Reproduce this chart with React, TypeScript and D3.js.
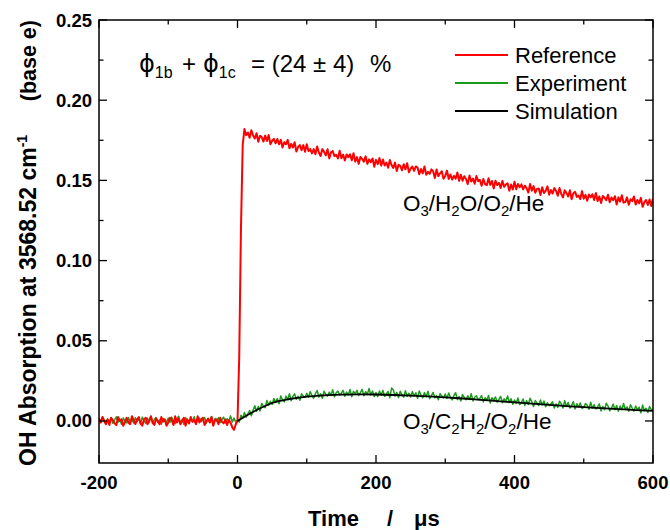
import * as d3 from "d3";

// sampled traces: one value every 2.5 µs starting at -200 µs
const T_START = -200;
const T_STEP = 2.5;

const REFERENCE = [
  0.0015, -0.001, 0.0025, 0.0, -0.002, 0.001, -0.0025, 0.002, 0.0005, -0.0015,
  -0.0025, 0.0025, 0.0, 0.001, -0.003, -0.0005, 0.002, -0.001, -0.002, 0.003,
  0.0005, -0.002, 0.001, 0.0025, -0.0015, -0.003, 0.001, 0.002, -0.002, 0.0,
  0.003, -0.001, -0.0025, 0.0015, 0.0, -0.002, 0.0025, -0.0005, 0.001, -0.003,
  -0.001, 0.002, 0.0005, -0.0025, 0.003, -0.001, 0.0015, -0.002, 0.0, 0.002,
  -0.003, 0.001, -0.0015, 0.0025, -0.0005, 0.0005, -0.002, 0.003, -0.001, 0.001,
  0.002, -0.0025, 0.0, 0.0015, -0.001, 0.0025, -0.003, 0.0005, 0.001, -0.002,
  0.002, -0.0005, -0.0015, 0.001, -0.0025, 0.0005, -0.001, -0.004, -0.0055, -0.002,
  0.0, 0.04, 0.12, 0.172,
  0.182, 0.1782, 0.1799, 0.1766, 0.1813, 0.178, 0.1762, 0.1794, 0.1741, 0.1778,
  0.177, 0.1742, 0.1779, 0.1746, 0.1783, 0.1725, 0.1747, 0.1759, 0.1731, 0.1758,
  0.1725, 0.1753, 0.1705, 0.1738, 0.1725, 0.1753, 0.17, 0.1728, 0.1705, 0.1738,
  0.168, 0.1708, 0.172, 0.1688, 0.172, 0.1678, 0.1725, 0.1683, 0.1695, 0.1668,
  0.1695, 0.1663, 0.1711, 0.1674, 0.1652, 0.1695, 0.1678, 0.1656, 0.1694, 0.1637,
  0.1675, 0.1683, 0.1651, 0.1659, 0.1637, 0.1685, 0.1638, 0.1661, 0.1624, 0.1662,
  0.1645, 0.1663, 0.1626, 0.1669, 0.1617, 0.1645, 0.1603, 0.1646, 0.1634, 0.1617,
  0.165, 0.1603, 0.1631, 0.1614, 0.1637, 0.1585, 0.1628, 0.1601, 0.1639, 0.1592,
  0.163, 0.1593, 0.1611, 0.1579, 0.1627, 0.1595, 0.1578, 0.1611, 0.1559, 0.1597,
  0.159, 0.1563, 0.1601, 0.1569, 0.1607, 0.155, 0.1573, 0.1586, 0.1559, 0.1587,
  0.158, 0.1538, 0.1571, 0.1544, 0.1587, 0.1535, 0.1553, 0.1541, 0.1569, 0.1557,
  0.1515, 0.1568, 0.1526, 0.1544, 0.1557, 0.151, 0.1528, 0.1561, 0.1509, 0.1537,
  0.1505, 0.1528, 0.1511, 0.1549, 0.1497, 0.1535, 0.1498, 0.1526, 0.1509, 0.1477,
  0.153, 0.1493, 0.1511, 0.1479, 0.1527, 0.1495, 0.1503, 0.1466, 0.1509, 0.1477,
  0.147, 0.1514, 0.1472, 0.1496, 0.1449, 0.1498, 0.1471, 0.1485, 0.1453, 0.1497,
  0.146, 0.1474, 0.1482, 0.1436, 0.1474, 0.1443, 0.1491, 0.1445, 0.1478, 0.1457,
  0.1475, 0.1444, 0.1467, 0.1451, 0.1424, 0.1478, 0.1436, 0.1465, 0.1423, 0.1447,
  0.145, 0.1409, 0.1457, 0.1421, 0.1434, 0.1463, 0.1411, 0.144, 0.1418, 0.1452,
  0.1435, 0.1404, 0.1452, 0.1416, 0.1394, 0.1438, 0.1421, 0.14, 0.1438, 0.1382,
  0.142, 0.1429, 0.1397, 0.1406, 0.1384, 0.1433, 0.1386, 0.141, 0.1373, 0.1412,
  0.1395, 0.1414, 0.1378, 0.1422, 0.1371, 0.14, 0.1359, 0.1403, 0.1392, 0.1376,
  0.141, 0.1364, 0.1393, 0.1377, 0.1401, 0.135, 0.1394, 0.1368, 0.1407, 0.1361,
  0.1365, 0.1394, 0.1348, 0.1382, 0.1371, 0.14, 0.1349, 0.1378, 0.1357, 0.1391,
  0.1335, 0.1364, 0.1378, 0.1347, 0.1381, 0.134, 0.1389,
];

const EXPERIMENT = [
  0.0016, -0.001, 0.0024, 0.0002, -0.0018, 0.0012, -0.0004, 0.002, -0.0014, 0.0006,
  0.0026, -0.0008, 0.0014, -0.002, 0.0018, 0.0, -0.0012, 0.0022, -0.0006, 0.001,
  -0.0012, 0.002, -0.0004, 0.0014, -0.0018, 0.0024, 0.0002, -0.0014, 0.0018, -0.0006,
  0.0028, -0.0016, 0.001, 0.0022, -0.001, 0.0006, -0.002, 0.0016, 0.0004, -0.0008,
  0.0018, -0.0008, 0.0024, 0.0, -0.0016, 0.0012, 0.003, -0.0012, 0.0008, -0.002,
  0.002, 0.0004, -0.001, 0.0016, -0.0006, 0.0026, -0.0014, 0.001, 0.0018, -0.0004,
  0.0006, 0.0022, -0.0014, 0.0012, -0.0004, 0.0028, -0.0018, 0.0016, 0.0, 0.002,
  -0.001, 0.0008, 0.0024, -0.0012, 0.0014, -0.0002, 0.0032, -0.0006, 0.0018, -0.0008,
  0.0005, -0.0006, 0.0036, 0.0016, 0.0053, 0.0023, 0.0045, 0.0065, 0.0033, 0.0067,
  0.0095, 0.006, 0.009, 0.0063, 0.0109, 0.0092, 0.0083, 0.0128, 0.0098, 0.0123,
  0.0103, 0.014, 0.0116, 0.0139, 0.0107, 0.0156, 0.0132, 0.0119, 0.0155, 0.0132,
  0.017, 0.0126, 0.0153, 0.0169, 0.0136, 0.0154, 0.0129, 0.0169, 0.0156, 0.0146,
  0.0173, 0.0148, 0.0183, 0.0157, 0.0142, 0.0171, 0.019, 0.0149, 0.0169, 0.0142,
  0.0185, 0.0167, 0.0154, 0.018, 0.0159, 0.0195, 0.0151, 0.0176, 0.0186, 0.0163,
  0.0173, 0.0191, 0.0154, 0.018, 0.0164, 0.0196, 0.0151, 0.0185, 0.0169, 0.0191,
  0.0159, 0.0177, 0.0197, 0.0157, 0.0183, 0.0167, 0.0202, 0.0162, 0.0186, 0.0152,
  0.0178, 0.0152, 0.0187, 0.0161, 0.0191, 0.0154, 0.017, 0.0184, 0.0145, 0.0205,
  0.0195, 0.0155, 0.0178, 0.0146, 0.0185, 0.0163, 0.0149, 0.0188, 0.0154, 0.0173,
  0.0149, 0.0183, 0.0156, 0.0176, 0.0141, 0.0187, 0.016, 0.0144, 0.0177, 0.0151,
  0.0186, 0.0139, 0.0158, 0.0178, 0.0144, 0.0159, 0.0132, 0.017, 0.0155, 0.0143,
  0.0168, 0.0141, 0.0175, 0.0148, 0.0131, 0.0159, 0.0176, 0.0133, 0.0152, 0.0124,
  0.0165, 0.0146, 0.0132, 0.0157, 0.0134, 0.017, 0.0125, 0.0148, 0.0157, 0.0133,
  0.0141, 0.0158, 0.0119, 0.0145, 0.0128, 0.0159, 0.0112, 0.0145, 0.0129, 0.015,
  0.0117, 0.0134, 0.0153, 0.0113, 0.0138, 0.0121, 0.0156, 0.0115, 0.0139, 0.0104,
  0.0131, 0.011, 0.0143, 0.0103, 0.0116, 0.0137, 0.0096, 0.0127, 0.0103, 0.0142,
  0.0119, 0.009, 0.0127, 0.0113, 0.0096, 0.0131, 0.01, 0.0125, 0.0089, 0.0114,
  0.0095, 0.0106, 0.012, 0.0081, 0.0106, 0.0085, 0.0123, 0.0108, 0.0081, 0.0127,
  0.009, 0.0115, 0.0081, 0.0096, 0.0121, 0.0075, 0.0108, 0.0087, 0.0112, 0.0078,
  0.0085, 0.0108, 0.0098, 0.0073, 0.0117, 0.008, 0.0101, 0.0075, 0.0088, 0.0106,
  0.0063, 0.009, 0.007, 0.0111, 0.0093, 0.0064, 0.0079, 0.0105, 0.007, 0.0096,
  0.0061, 0.0094, 0.007, 0.0109, 0.0072, 0.0088, 0.0061, 0.0101, 0.008, 0.0062,
  0.0093, 0.007, 0.0086, 0.0051, 0.0099, 0.0064, 0.0079, 0.0053, 0.009, 0.0072,
  0.0068,
];

const SIM_TIME = [
  0, 25, 50, 75, 100, 125, 150, 175, 200, 225, 250, 275, 300,
  325, 350, 375, 400, 425, 450, 475, 500, 525, 550, 575, 600,
];
const SIMULATION = [
  0.0, 0.0062, 0.0112, 0.0137, 0.0152, 0.016, 0.0164, 0.0166, 0.0165, 0.0162,
  0.0158, 0.0153, 0.0147, 0.014, 0.0132, 0.0124, 0.0116, 0.0108, 0.01, 0.0093,
  0.0086, 0.008, 0.0074, 0.0068, 0.0063,
];

const X_TICKS = [-200, 0, 200, 400, 600];
const X_MINOR = [-100, 100, 300, 500];
const Y_TICKS = [0, 0.05, 0.1, 0.15, 0.2, 0.25];
const Y_MINOR = [0.025, 0.075, 0.125, 0.175, 0.225];

const LEGEND = [
  { label: "Reference", color: "#ff0000" },
  { label: "Experiment", color: "#1c9a1c" },
  { label: "Simulation", color: "#000000" },
];

const W = 670;
const H = 530;
const m = { top: 20, right: 17, bottom: 67, left: 99 };
const FONT = "'Liberation Sans', Arial, sans-serif";

type Pt = [number, number];

export default function App() {
  const x = d3.scaleLinear().domain([-200, 600]).range([m.left, W - m.right]);
  const y = d3.scaleLinear().domain([-0.0262, 0.25]).range([H - m.bottom, m.top]);
  const x0 = m.left, x1 = W - m.right, y0 = H - m.bottom, y1 = m.top;

  const raw = d3.line<Pt>().x((d) => x(d[0])).y((d) => y(d[1]));
  const smooth = d3.line<Pt>().x((d) => x(d[0])).y((d) => y(d[1])).curve(d3.curveMonotoneX);

  const refPts = REFERENCE.map((v, i) => [T_START + i * T_STEP, v] as Pt);
  const expPts = EXPERIMENT.map((v, i) => [T_START + i * T_STEP, v] as Pt);
  const simPts = SIM_TIME.map((t, i) => [t, SIMULATION[i]] as Pt);

  const major = 8;
  const minor = 4.5;
  const sub = 15;

  return (
    <>
      <style>{"body{margin:0}"}</style>
      <svg width={W} height={H} style={{ display: "block", fontFamily: FONT }}>
        <rect width={W} height={H} fill="#fff" />
        <defs>
          <clipPath id="plot">
            <rect x={x0} y={y1} width={x1 - x0} height={y0 - y1} />
          </clipPath>
        </defs>

        {/* traces */}
        <g clipPath="url(#plot)" fill="none" strokeLinejoin="round">
          <path d={raw(expPts) ?? ""} stroke={LEGEND[1].color} strokeWidth={1.5} />
          <path d={raw(refPts) ?? ""} stroke={LEGEND[0].color} strokeWidth={2} />
          <path d={smooth(simPts) ?? ""} stroke="#000" strokeWidth={1.8} />
        </g>

        {/* frame + inward ticks on all sides */}
        <rect x={x0} y={y1} width={x1 - x0} height={y0 - y1} fill="none" stroke="#000" strokeWidth={1.5} />
        <g stroke="#000" strokeWidth={1.3}>
          {X_TICKS.map((t) => (
            <g key={"xt" + t}>
              <line x1={x(t)} x2={x(t)} y1={y0} y2={y0 - major} />
              <line x1={x(t)} x2={x(t)} y1={y1} y2={y1 + major} />
            </g>
          ))}
          {X_MINOR.map((t) => (
            <g key={"xm" + t}>
              <line x1={x(t)} x2={x(t)} y1={y0} y2={y0 - minor} />
              <line x1={x(t)} x2={x(t)} y1={y1} y2={y1 + minor} />
            </g>
          ))}
          {Y_TICKS.map((v) => (
            <g key={"yt" + v}>
              <line x1={x0} x2={x0 + major} y1={y(v)} y2={y(v)} />
              <line x1={x1} x2={x1 - major} y1={y(v)} y2={y(v)} />
            </g>
          ))}
          {Y_MINOR.map((v) => (
            <g key={"ym" + v}>
              <line x1={x0} x2={x0 + minor} y1={y(v)} y2={y(v)} />
              <line x1={x1} x2={x1 - minor} y1={y(v)} y2={y(v)} />
            </g>
          ))}
        </g>

        {/* tick labels */}
        <g fontWeight="bold" fontSize={18.5} fill="#000">
          {X_TICKS.map((t) => (
            <text key={"xl" + t} x={x(t)} y={y0 + 26} textAnchor="middle">
              {t}
            </text>
          ))}
          {Y_TICKS.map((v) => (
            <text key={"yl" + v} x={x0 - 7} y={y(v) + 6.5} textAnchor="end">
              {d3.format(".2f")(v)}
            </text>
          ))}
        </g>

        {/* axis titles */}
        <g fontWeight="bold" fill="#000">
          <text x={308} y={526} fontSize={22}>Time</text>
          <text x={387} y={526} fontSize={22}>/</text>
          <text x={414} y={526} fontSize={22}>μs</text>
          <text transform="translate(36,466) rotate(-90)" fontSize={23}>
            OH Absorption at 3568.52 cm
            <tspan dy={-9} fontSize={14}>-1</tspan>
          </text>
          <text transform="translate(36,20) rotate(-90)" textAnchor="end" fontSize={21.5}>
            (base e)
          </text>
        </g>

        {/* annotation */}
        <text y={72} fontSize={24} fill="#000" fontFamily="'DejaVu Sans', sans-serif">
          <tspan x={139}>ϕ</tspan>
          <tspan fontSize={16} y={78} fontFamily={FONT}>1b</tspan>
          <tspan x={182} y={72} fontFamily={FONT}>+</tspan>
          <tspan x={203}>ϕ</tspan>
          <tspan fontSize={16} y={78} fontFamily={FONT}>1c</tspan>
          <tspan x={251} y={72} fontFamily={FONT}>= (24 ± 4)</tspan>
          <tspan x={370} fontFamily={FONT}>%</tspan>
        </text>

        {/* legend */}
        {LEGEND.map((l, i) => (
          <g key={l.label} transform={`translate(455,${55 + i * 28})`}>
            <line x1={0} x2={53} stroke={l.color} strokeWidth={2} />
            <text x={60} y={7.5} fontSize={22} fill="#000">
              {l.label}
            </text>
          </g>
        ))}

        {/* mixture labels */}
        <text x={403} y={211} fontSize={22.5} fill="#000">
          O<tspan fontSize={sub} dy={5}>3</tspan>
          <tspan dy={-5}>/H</tspan>
          <tspan fontSize={sub} dy={5}>2</tspan>
          <tspan dy={-5}>O/O</tspan>
          <tspan fontSize={sub} dy={5}>2</tspan>
          <tspan dy={-5}>/He</tspan>
        </text>
        <text x={403} y={429} fontSize={22.5} fill="#000">
          O<tspan fontSize={sub} dy={5}>3</tspan>
          <tspan dy={-5}>/C</tspan>
          <tspan fontSize={sub} dy={5}>2</tspan>
          <tspan dy={-5}>H</tspan>
          <tspan fontSize={sub} dy={5}>2</tspan>
          <tspan dy={-5}>/O</tspan>
          <tspan fontSize={sub} dy={5}>2</tspan>
          <tspan dy={-5}>/He</tspan>
        </text>
      </svg>
    </>
  );
}
